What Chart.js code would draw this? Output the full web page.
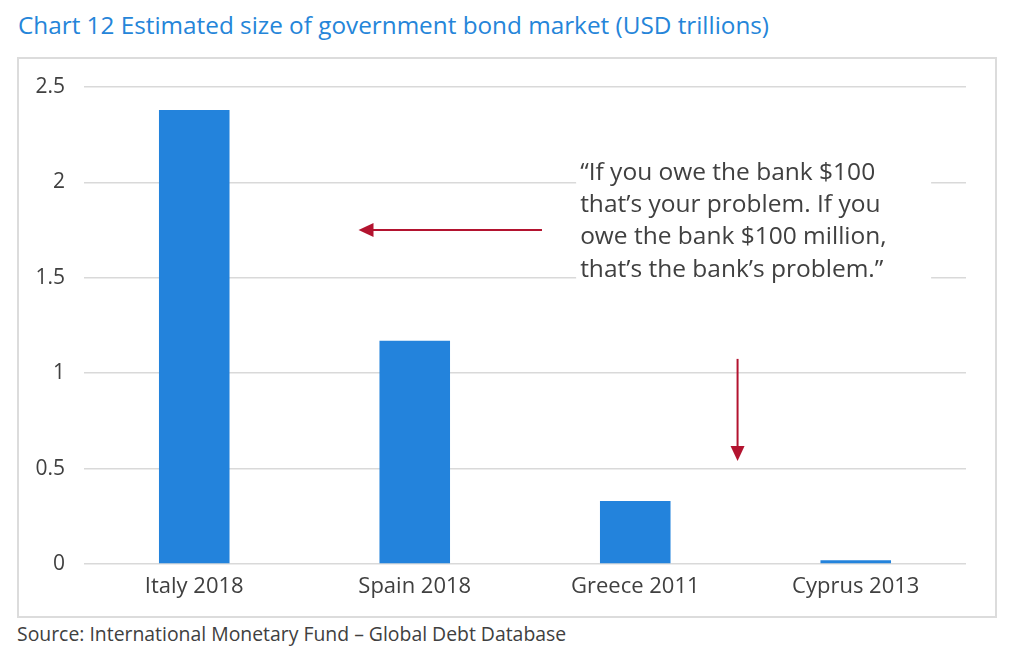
<!DOCTYPE html>
<html>
<head>
<meta charset="utf-8">
<script src="https://cdn.jsdelivr.net/npm/chart.js@4.4.0/dist/chart.umd.min.js"></script>
<style>
  body { margin: 0; width: 1024px; height: 665px; background: #fff; position: relative; overflow: hidden; font-family: "Open Sans", sans-serif; }
  #title { position: absolute; left: 18px; top: 8px; font-size: 24.3px; color: #2585d9; white-space: nowrap; }
  #frame { position: absolute; left: 17px; top: 57px; width: 976px; height: 557px; border: 2px solid #dcdcdc; }
  #source { position: absolute; left: 17px; top: 620px; font-size: 19.4px; color: #404040; white-space: nowrap; }
</style>
</head>
<body>
<div id="title">Chart 12 Estimated size of government bond market (USD trillions)</div>
<div id="frame"><canvas id="bondChart" width="976" height="557"></canvas></div>
<div id="source">Source: International Monetary Fund – Global Debt Database</div>
<script>
var categories = ['Italy 2018', 'Spain 2018', 'Greece 2011', 'Cyprus 2013'];
var bondSize = [2.38, 1.17, 0.33, 0.02];
var yTicks = [0, 0.5, 1, 1.5, 2, 2.5];
var quoteLines = [
    '\u201CIf you owe the bank $100',
    'that\u2019s your problem. If you',
    'owe the bank $100 million,',
    'that\u2019s the bank\u2019s problem.\u201D'
];

var textColor = '#404040';
var arrowColor = '#b3132f';

function drawArrow(ctx, x1, y1, x2, y2) {
    var ang = Math.atan2(y2 - y1, x2 - x1);
    var head = 15, half = 7;
    ctx.strokeStyle = arrowColor;
    ctx.fillStyle = arrowColor;
    ctx.lineWidth = 2;
    ctx.beginPath();
    ctx.moveTo(x1, y1);
    ctx.lineTo(x2 - Math.cos(ang) * head * 0.8, y2 - Math.sin(ang) * head * 0.8);
    ctx.stroke();
    ctx.beginPath();
    ctx.moveTo(x2, y2);
    ctx.lineTo(x2 - Math.cos(ang) * head - Math.sin(ang) * half, y2 - Math.sin(ang) * head + Math.cos(ang) * half);
    ctx.lineTo(x2 - Math.cos(ang) * head + Math.sin(ang) * half, y2 - Math.sin(ang) * head - Math.cos(ang) * half);
    ctx.closePath();
    ctx.fill();
}

// quote box + arrows, placed with the chart's own scales
var notes = {
    id: 'notes',
    afterDraw: function(chart) {
        var ctx = chart.ctx;
        var xs = chart.scales.x, ys = chart.scales.y;
        ctx.save();

        var tx = xs.getPixelForValue(1.75);
        ctx.fillStyle = '#fff';
        ctx.fillRect(tx - 4, ys.getPixelForValue(2.12), 355, ys.getPixelForValue(1.38) - ys.getPixelForValue(2.12));

        ctx.fillStyle = textColor;
        ctx.font = '24.5px "Open Sans"';
        ctx.textBaseline = 'middle';
        var y0 = ys.getPixelForValue(2.05);
        quoteLines.forEach(function(line, i) {
            ctx.fillText(line, tx, y0 + i * 32.3);
        });

        drawArrow(ctx, xs.getPixelForValue(1.577), ys.getPixelForValue(1.75),
                  xs.getPixelForValue(0.745), ys.getPixelForValue(1.75));
        drawArrow(ctx, xs.getPixelForValue(2.464), ys.getPixelForValue(1.075),
                  xs.getPixelForValue(2.464), ys.getPixelForValue(0.54));
        ctx.restore();
    }
};

var ctx = document.getElementById('bondChart').getContext('2d');
var bondChart = new Chart(ctx, {
    type: 'bar',
    data: {
        labels: categories,
        datasets: [{
            data: bondSize,
            backgroundColor: '#2383dc',
            categoryPercentage: 1,
            barPercentage: 0.32
        }]
    },
    options: {
        responsive: false,
        animation: false,
        layout: { padding: { left: 0, right: 29, top: 28, bottom: 0 } },
        plugins: {
            legend: { display: false },
            tooltip: { enabled: false }
        },
        scales: {
            x: {
                grid: { display: false },
                border: { display: false },
                ticks: { color: textColor, font: { family: 'Open Sans', size: 22 }, padding: 2 },
                afterFit: function(scale) { scale.height = 52; }
            },
            y: {
                min: 0,
                max: 2.5,
                afterBuildTicks: function(scale) {
                    scale.ticks = yTicks.map(function(v) { return { value: v }; });
                },
                grid: { color: '#d9d9d9', lineWidth: 1.5, drawTicks: false },
                border: { display: false },
                ticks: {
                    color: textColor,
                    font: { family: 'Open Sans', size: 21 },
                    padding: 19,
                    callback: function(v) { return String(v); }
                },
                afterFit: function(scale) {
                    scale.width = 65;
                    scale.paddingTop = 0;
                    scale.paddingBottom = 0;
                }
            }
        }
    },
    plugins: [notes]
});
</script>
</body>
</html>
